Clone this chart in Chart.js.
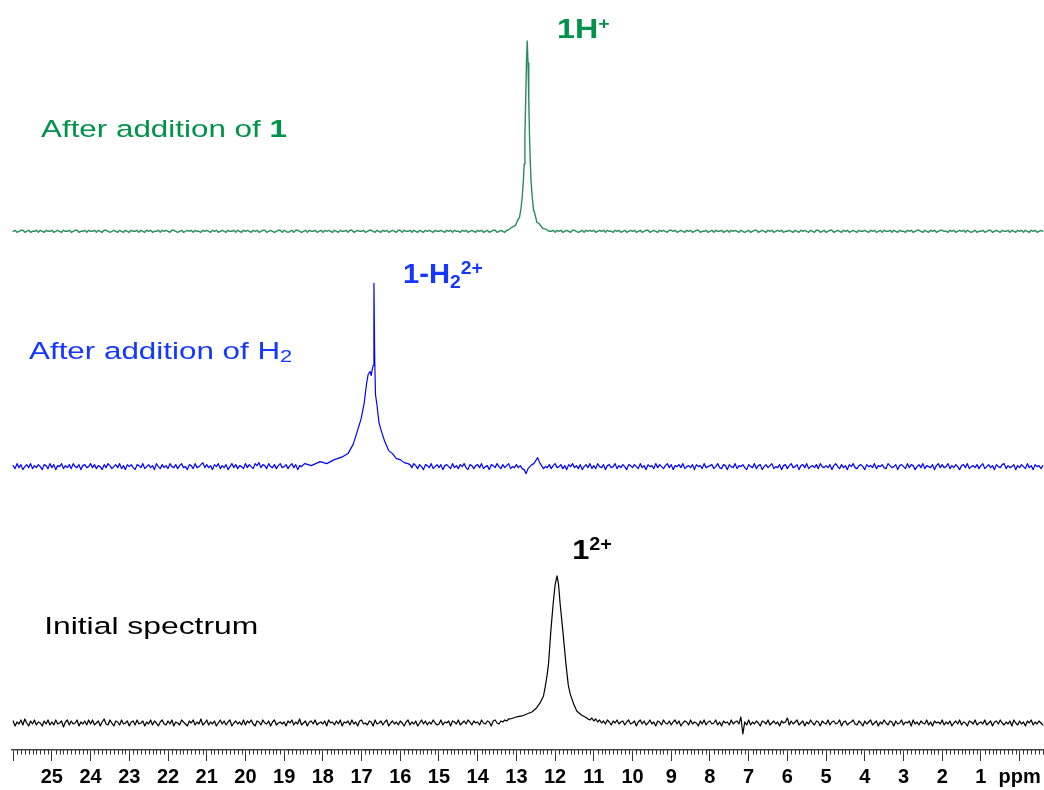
<!DOCTYPE html>
<html>
<head>
<meta charset="utf-8">
<title>1H NMR spectra</title>
<script src="https://cdn.jsdelivr.net/npm/chart.js@4.4.1/dist/chart.umd.min.js"></script>
<style>
  html, body { margin: 0; padding: 0; background: #fff; }
  #wrap { width: 1044px; height: 790px; }
</style>
</head>
<body>
<div id="wrap"><canvas id="nmr" width="1044" height="790"></canvas></div>
<script>
// --- chemical shift grid (ppm), 0.05 ppm steps for the baselines ---
const ppmGrid = [
  26,25.95,25.9,25.85,25.8,25.75,25.7,25.65,25.6,25.55,25.5,25.45,25.4,25.35,25.3,25.25,25.2,25.15,25.1,25.05,
  25,24.95,24.9,24.85,24.8,24.75,24.7,24.65,24.6,24.55,24.5,24.45,24.4,24.35,24.3,24.25,24.2,24.15,24.1,24.05,
  24,23.95,23.9,23.85,23.8,23.75,23.7,23.65,23.6,23.55,23.5,23.45,23.4,23.35,23.3,23.25,23.2,23.15,23.1,23.05,
  23,22.95,22.9,22.85,22.8,22.75,22.7,22.65,22.6,22.55,22.5,22.45,22.4,22.35,22.3,22.25,22.2,22.15,22.1,22.05,
  22,21.95,21.9,21.85,21.8,21.75,21.7,21.65,21.6,21.55,21.5,21.45,21.4,21.35,21.3,21.25,21.2,21.15,21.1,21.05,
  21,20.95,20.9,20.85,20.8,20.75,20.7,20.65,20.6,20.55,20.5,20.45,20.4,20.35,20.3,20.25,20.2,20.15,20.1,20.05,
  20,19.95,19.9,19.85,19.8,19.75,19.7,19.65,19.6,19.55,19.5,19.45,19.4,19.35,19.3,19.25,19.2,19.15,19.1,19.05,
  19,18.95,18.9,18.85,18.8,18.75,18.7,18.65,18.6,18.55,18.5,18.45,18.4,18.35,18.3,18.25,18.2,18.15,18.1,18.05,
  18,17.95,17.9,17.85,17.8,17.75,17.7,17.65,17.6,17.55,17.5,17.45,17.4,17.35,17.3,17.25,17.2,17.15,17.1,17.05,
  17,16.95,16.9,16.85,16.8,16.75,16.7,16.65,16.6,16.55,16.5,16.45,16.4,16.35,16.3,16.25,16.2,16.15,16.1,16.05,
  16,15.95,15.9,15.85,15.8,15.75,15.7,15.65,15.6,15.55,15.5,15.45,15.4,15.35,15.3,15.25,15.2,15.15,15.1,15.05,
  15,14.95,14.9,14.85,14.8,14.75,14.7,14.65,14.6,14.55,14.5,14.45,14.4,14.35,14.3,14.25,14.2,14.15,14.1,14.05,
  14,13.95,13.9,13.85,13.8,13.75,13.7,13.65,13.6,13.55,13.5,13.45,13.4,13.35,13.3,13.25,13.2,13.15,13.1,13.05,
  13,12.95,12.9,12.85,12.8,12.75,12.7,12.65,12.6,12.55,12.5,12.45,12.4,12.35,12.3,12.25,12.2,12.15,12.1,12.05,
  12,11.95,11.9,11.85,11.8,11.75,11.7,11.65,11.6,11.55,11.5,11.45,11.4,11.35,11.3,11.25,11.2,11.15,11.1,11.05,
  11,10.95,10.9,10.85,10.8,10.75,10.7,10.65,10.6,10.55,10.5,10.45,10.4,10.35,10.3,10.25,10.2,10.15,10.1,10.05,
  10,9.95,9.9,9.85,9.8,9.75,9.7,9.65,9.6,9.55,9.5,9.45,9.4,9.35,9.3,9.25,9.2,9.15,9.1,9.05,
  9,8.95,8.9,8.85,8.8,8.75,8.7,8.65,8.6,8.55,8.5,8.45,8.4,8.35,8.3,8.25,8.2,8.15,8.1,8.05,
  8,7.95,7.9,7.85,7.8,7.75,7.7,7.65,7.6,7.55,7.5,7.45,7.4,7.35,7.3,7.25,7.2,7.15,7.1,7.05,
  7,6.95,6.9,6.85,6.8,6.75,6.7,6.65,6.6,6.55,6.5,6.45,6.4,6.35,6.3,6.25,6.2,6.15,6.1,6.05,
  6,5.95,5.9,5.85,5.8,5.75,5.7,5.65,5.6,5.55,5.5,5.45,5.4,5.35,5.3,5.25,5.2,5.15,5.1,5.05,
  5,4.95,4.9,4.85,4.8,4.75,4.7,4.65,4.6,4.55,4.5,4.45,4.4,4.35,4.3,4.25,4.2,4.15,4.1,4.05,
  4,3.95,3.9,3.85,3.8,3.75,3.7,3.65,3.6,3.55,3.5,3.45,3.4,3.35,3.3,3.25,3.2,3.15,3.1,3.05,
  3,2.95,2.9,2.85,2.8,2.75,2.7,2.65,2.6,2.55,2.5,2.45,2.4,2.35,2.3,2.25,2.2,2.15,2.1,2.05,
  2,1.95,1.9,1.85,1.8,1.75,1.7,1.65,1.6,1.55,1.5,1.45,1.4,1.35,1.3,1.25,1.2,1.15,1.1,1.05,
  1,0.95,0.9,0.85,0.8,0.75,0.7,0.65,0.6,0.55,0.5,0.45,0.4,0.35,0.3,0.25,0.2,0.15,0.1,0.05,
  0,-0.05,-0.1,-0.15,-0.2,-0.25,-0.3,-0.35,-0.4,-0.45,-0.5,-0.55,-0.6
];

// baseline (same order as ppmGrid)
const greenBase = [
  0,1,-1,0,1,1,-1,0,1,-1,0,0,1,-1,1,0,-1,1,0,0,
  1,-1,0,1,0,-1,1,0,0,1,-1,0,1,1,-1,0,0,1,-1,1,
  0,0,1,-1,1,0,-1,1,1,0,-1,0,1,0,-1,1,0,-1,1,0,
  -1,1,0,0,1,-1,1,0,-1,1,0,1,-1,0,0,1,-1,1,0,1,
  0,-1,1,1,0,-1,0,1,-1,0,1,0,1,-1,1,0,0,-1,1,0,
  1,0,-1,1,0,1,-1,0,1,0,-1,1,0,0,1,-1,1,0,-1,1,
  0,1,0,-1,1,0,1,-1,0,1,1,-1,0,1,0,-1,0,1,1,-1,
  1,0,-1,0,1,-1,1,1,0,-1,0,1,-1,1,0,0,1,-1,0,1,
  -1,1,0,1,0,-1,1,0,-1,1,0,0,1,-1,1,1,-1,0,1,0,
  0,1,-1,0,1,1,0,-1,1,0,-1,1,0,1,-1,0,1,0,-1,1,
  1,-1,1,0,0,1,-1,1,0,-1,1,0,-1,1,0,1,0,-1,1,0,
  0,1,0,-1,1,0,1,-1,1,0,0,-1,1,0,1,-1,0,1,0,-1,
  1,0,1,-1,0,1,-1,0,1,1,-1,0,1,0,-1,1,0,1,-1,0,
  0,1,-1,0,1,0,1,-1,0,1,0,-1,1,0,1,-1,1,0,0,1,
  -1,1,0,1,-1,0,1,0,-1,1,1,0,-1,0,1,-1,1,0,1,0,
  1,-1,0,1,0,1,-1,1,0,0,-1,1,0,1,-1,0,1,-1,0,1,
  0,1,-1,0,1,-1,0,1,1,-1,0,1,0,-1,1,0,1,0,-1,1,
  1,0,1,-1,0,1,0,-1,1,0,1,-1,0,1,1,-1,0,0,1,-1,
  0,1,-1,1,0,0,1,-1,0,1,-1,1,0,1,0,-1,1,0,-1,0,
  1,-1,0,1,1,-1,0,1,0,-1,1,0,1,-1,0,1,0,1,-1,0,
  0,1,0,-1,1,0,-1,1,0,1,0,-1,1,0,-1,1,1,-1,0,1,
  -1,0,1,1,-1,0,1,0,-1,1,0,1,-1,0,1,0,-1,1,0,0,
  1,0,-1,1,0,1,-1,0,1,-1,1,0,0,1,-1,1,0,-1,1,0,
  0,-1,1,0,1,-1,0,1,1,0,-1,1,0,-1,1,0,1,-1,0,1,
  1,0,0,-1,1,0,1,-1,0,1,0,1,-1,1,0,-1,0,1,-1,0,
  0,1,-1,0,1,1,-1,0,1,0,-1,1,0,0,1,-1,1,0,-1,1,
  0,1,-1,1,0,-1,1,0,1,-1,0,1,0
];
const blueBase = [
  1,-2,3,-1,2,-3,0,2,-1,3,-2,1,-1,2,0,-3,2,1,-2,3,
  -1,2,-3,1,0,3,-2,1,-1,2,-2,3,0,-1,2,-3,1,2,-1,0,
  3,-1,2,-2,1,0,-3,2,-1,3,1,-2,0,2,-1,3,-2,1,-3,2,
  0,2,-1,-3,2,1,-1,3,-2,0,2,-1,1,-3,3,0,-2,2,-1,1,
  -2,3,0,-1,2,-2,1,3,-1,0,-3,2,1,-2,3,-1,0,2,4,-1,
  2,-1,1,-3,2,0,3,-2,1,-1,2,-3,0,3,-1,2,-2,1,0,-2,
  3,-1,2,0,-2,3,1,4,-1,2,1,-2,3,0,-1,2,-2,1,3,-1,
  0,2,-2,1,3,-1,2,-3,1,0,2,3,-1,1,2,0,3,1,2,4,
  3,5,4,6,5,7,6,8,9,10,12,13,15,18,20,24,28,33,40,48,
  56,65,82,92,95,92,96,183,60,45,37,30,24,20,16,14,12,10,9,8,
  7,6,5,4,3,2,-1,3,1,-2,2,0,-3,2,1,-1,3,-2,0,2,
  -1,2,-3,1,2,0,-2,3,-1,1,-2,2,0,3,-1,-3,2,1,-2,1,
  2,-1,3,-2,0,1,-3,2,1,-1,3,0,-2,2,-1,1,3,-2,0,-1,
  2,-1,1,-2,-3,-7,-2,0,2,3,6,9,4,1,-2,0,-1,2,-2,1,
  3,-1,0,2,-2,1,-3,2,0,3,-1,1,-2,2,-3,0,2,-1,3,-2,
  1,-2,3,0,-1,2,-3,1,2,-1,0,3,-2,1,-1,2,0,-3,2,1,
  -1,2,0,-2,3,-1,1,-3,2,0,1,-2,3,-1,2,0,-2,1,3,-1,
  2,-3,1,0,2,-1,3,-2,0,1,-1,2,-3,2,0,1,-2,3,-1,0,
  1,2,-2,0,3,-1,-2,2,1,-3,2,0,-1,3,-2,1,0,2,-1,-3,
  2,0,-1,3,-2,1,2,-3,0,2,-1,1,3,-2,0,-1,2,-3,1,2,
  -2,1,3,-1,0,2,-3,1,2,-1,3,-2,0,1,-1,2,-2,3,0,-1,
  1,-1,2,-3,1,3,0,-2,2,-1,1,-3,2,0,3,-1,-2,1,2,0,
  -3,2,0,1,-1,3,-2,1,0,2,-1,-2,3,1,-1,0,2,-3,1,2,
  0,-2,3,-1,2,1,-3,0,2,-1,3,-2,1,0,-1,2,-3,1,3,-1,
  2,-1,0,3,-2,1,-1,2,0,-3,1,2,-1,3,-2,0,1,-1,2,-2,
  1,3,-2,0,2,-1,1,-3,2,0,-1,2,3,-2,1,-1,0,2,-3,1,
  -1,2,0,-2,3,-1,1,-3,2,0,1,-2,1
];
const blackBase = [
  2,-3,1,-1,3,-2,4,0,-3,2,-1,3,-2,1,0,-3,2,-1,3,-2,
  1,-2,3,-1,0,2,-4,1,3,-2,2,-1,0,3,-3,1,-1,2,-2,3,
  -1,3,-2,0,2,-3,1,4,-1,-2,3,0,-3,2,1,-2,3,-1,0,2,
  -3,1,2,-2,3,-1,0,2,-3,1,-1,3,-2,2,0,-3,1,3,-1,-2,
  2,-1,3,-3,1,0,-2,3,1,-1,-3,2,0,3,-2,1,-1,4,-2,0,
  3,-2,1,-1,2,-3,0,3,-1,2,-2,1,3,-3,0,2,-1,1,-2,3,
  -2,2,0,3,-1,-3,2,1,-2,3,0,-1,2,-3,1,3,-2,0,1,-1,
  1,-3,2,0,3,-2,1,-1,4,-2,0,2,-3,1,2,-1,3,-2,0,1,
  -1,2,-3,3,0,1,-2,2,-1,3,-3,1,0,2,-2,3,-1,1,-3,2,
  3,-1,0,-2,2,1,-3,3,-1,0,2,-2,1,3,-3,0,2,-1,1,-2,
  2,0,-3,1,3,-2,1,-1,2,-3,0,3,-1,2,-2,1,-1,3,0,-2,
  -1,3,-2,1,0,2,-3,2,1,-1,3,-2,0,2,-1,3,1,-2,2,0,
  1,-2,3,0,-1,2,1,-3,2,3,0,-1,2,1,3,2,4,4,5,6,
  7,8,8,9,10,11,12,14,16,18,20,24,28,32,36,44,55,72,92,108,
  119,138,147,138,119,100,78,59,45,36,29,24,19,15,12,10,8,4,3,5,
  2,4,1,3,0,2,-1,3,1,-2,2,0,3,-1,1,2,-2,1,3,-1,
  0,2,-3,1,3,-1,2,-2,0,3,-1,1,-3,2,1,-2,3,0,-1,2,
  -2,1,3,-1,2,-3,0,2,1,-2,3,-1,1,0,-3,2,-1,3,-2,1,
  2,-1,0,3,-2,1,-3,2,0,1,-2,3,-1,1,2,-1,6,-11,1,-2,
  3,-2,1,-1,2,0,-3,2,1,-1,3,-2,0,2,-1,1,-3,2,0,1,
  5,-2,2,-1,1,3,-2,0,2,-3,1,-1,3,0,-2,2,1,-3,2,0,
  -1,3,-2,1,2,-1,0,3,-3,1,2,-2,0,1,3,-1,-2,2,0,-3,
  2,-1,1,3,-2,0,2,-3,1,-1,3,0,-2,2,1,-3,2,-1,0,3,
  -2,1,0,2,-3,3,-1,1,-2,2,0,-1,3,-2,1,-3,2,0,1,-1,
  3,-2,1,-1,2,-3,0,2,-1,3,-2,1,0,-3,2,1,-1,3,-2,0,
  1,-1,3,-2,0,2,-3,1,2,-1,3,0,-2,1,-1,2,-3,3,0,-2,
  2,-1,1,-3,2,0,3,-2,1,-1,2,0,-2
];

// denser points across each resonance
const greenPeakPpm = [13.22,13.12,13.02,12.97,12.92,12.88,12.85,12.82,12.80,12.78,12.76,12.74,12.72,
  12.70,12.68,12.66,12.64,12.62,12.59,12.56,12.52,12.47,12.42,12.32,12.22];
const greenPeakInt = [1,4,6,11,14,23,34,50,67,96,130,168,190,168,132,94,69,49,34,22,17,9,8,3,2];

const bluePeakPpm = [18.46,18.30,18.07,17.90,17.70,17.48,17.35,17.22,17.12,17.01,16.93,16.87,16.83,16.78,
  16.75,16.73,16.70,16.68,16.66,16.64,16.60,16.55,16.50,16.40,16.30,16.20,16.10,16.00,15.90,15.80];
const bluePeakInt = [3,1,5,3,7,10,13,22,34,48,64,83,92,95,91,96,101,183,108,72,61,44,37,25,16,13,8,7,4,3];

const blackPeakPpm = [13.16,13.00,12.85,12.73,12.60,12.48,12.39,12.30,12.26,12.21,12.17,12.11,12.05,12.00,
  11.95,11.91,11.87,11.80,11.72,11.66,11.61,11.52,11.44,11.32,11.18];
const blackPeakInt = [4,6,7,9,11,15,20,27,35,47,59,92,119,138,147,138,119,92,59,38,29,19,12,8,5];

// x axis labels: 26 .. 0, the 0 position carries the unit
const tickValues = [26,25,24,23,22,21,20,19,18,17,16,15,14,13,12,11,10,9,8,7,6,5,4,3,2,1,0];

const FONT = "'Liberation Sans', Arial, Helvetica, sans-serif";
Chart.defaults.font.family = FONT;

// swap the baseline samples inside a peak window for the denser peak samples
function buildTrace(base, peakPpm, peakInt) {
  const lo = Math.min(...peakPpm);
  const hi = Math.max(...peakPpm);
  const pts = [];
  ppmGrid.forEach((p, i) => {
    if (p < lo || p > hi) pts.push({ x: p, y: base[i] });
  });
  peakPpm.forEach((p, i) => pts.push({ x: p, y: peakInt[i] }));
  pts.sort((a, b) => b.x - a.x);
  return pts;
}

// labels anchored in data space (ppm, trace units)
const annotations = [
  { axis: 'yGreen', ppm: 25.28, val: 94, color: '#00924a', sx: 1.28,
    runs: [{ t: 'After addition of ', size: 24.5 }, { t: '1', size: 24.5, bold: true }] },
  { axis: 'yGreen', ppm: 11.95, val: 193, color: '#00924a', sx: 1.15,
    runs: [{ t: '1H', size: 28, bold: true }, { t: '+', size: 17, bold: true, dy: -9 }] },
  { axis: 'yBlue', ppm: 25.59, val: 107, color: '#1438ff', sx: 1.28,
    runs: [{ t: 'After addition of H', size: 24.5 }, { t: '2', size: 17, dy: 2.5 }] },
  { axis: 'yBlue', ppm: 15.93, val: 183, color: '#1438ff', sx: 1.08,
    runs: [{ t: '1-H', size: 27, bold: true }, { t: '2', size: 18, bold: true, dy: 5 },
           { t: '2+', size: 18, bold: true, dy: -9 }] },
  { axis: 'yBlack', ppm: 25.2, val: 89, color: '#000', sx: 1.3,
    runs: [{ t: 'Initial spectrum', size: 24.5 }] },
  { axis: 'yBlack', ppm: 11.56, val: 164, color: '#000', sx: 1.1,
    runs: [{ t: '1', size: 28, bold: true }, { t: '2+', size: 18, bold: true, dy: -9 }] }
];

const labelPlugin = {
  id: 'traceLabels',
  afterDatasetsDraw(chart) {
    const ctx = chart.ctx;
    const xs = chart.scales.x;
    annotations.forEach(a => {
      const x0 = xs.getPixelForValue(a.ppm);
      const y0 = chart.scales[a.axis].getPixelForValue(a.val);
      ctx.save();
      ctx.translate(x0, y0);
      ctx.scale(a.sx, 1);
      ctx.fillStyle = a.color;
      ctx.textBaseline = 'alphabetic';
      let cx = 0;
      a.runs.forEach(r => {
        ctx.font = (r.bold ? 'bold ' : '') + r.size + 'px ' + FONT;
        ctx.fillText(r.t, cx, r.dy || 0);
        cx += ctx.measureText(r.t).width;
      });
      ctx.restore();
    });
  }
};

// 0.1 ppm minor ticks under the axis line
const minorTicks = {
  id: 'minorTicks',
  afterDraw(chart) {
    const xs = chart.scales.x;
    const ctx = chart.ctx;
    ctx.save();
    ctx.strokeStyle = '#333';
    ctx.lineWidth = 1;
    ctx.beginPath();
    for (let i = -6; i <= 260; i++) {
      if (i % 10 === 0) continue;
      const px = Math.round(xs.getPixelForValue(i / 10)) + 0.5;
      ctx.moveTo(px, xs.top);
      ctx.lineTo(px, xs.top + 4.5);
    }
    ctx.stroke();
    ctx.restore();
  }
};

new Chart(document.getElementById('nmr'), {
  type: 'line',
  data: {
    datasets: [
      { label: 'After addition of 1', data: buildTrace(greenBase, greenPeakPpm, greenPeakInt),
        yAxisID: 'yGreen', borderColor: '#2a8c5a', borderWidth: 1.4 },
      { label: 'After addition of H2', data: buildTrace(blueBase, bluePeakPpm, bluePeakInt),
        yAxisID: 'yBlue', borderColor: '#0000ff', borderWidth: 1.2 },
      { label: 'Initial spectrum', data: buildTrace(blackBase, blackPeakPpm, blackPeakInt),
        yAxisID: 'yBlack', borderColor: '#000000', borderWidth: 1.2 }
    ]
  },
  options: {
    responsive: false,
    animation: false,
    events: [],
    elements: {
      point: { radius: 0 },
      line: { tension: 0, borderJoinStyle: 'round', borderCapStyle: 'round' }
    },
    layout: { padding: { left: 12, right: 0, top: 0, bottom: -3 } },
    plugins: { legend: { display: false }, tooltip: { enabled: false } },
    scales: {
      x: {
        type: 'linear',
        reverse: true,
        min: -0.63,
        max: 26.03,
        afterBuildTicks: scale => { scale.ticks = tickValues.slice().reverse().map(v => ({ value: v })); },
        ticks: {
          autoSkip: false,
          maxRotation: 0,
          padding: 4,
          color: '#000',
          font: { size: 20, weight: 'bold' },
          callback: v => (v === 0 ? 'ppm' : v === 26 ? '' : String(v))
        },
        grid: { drawOnChartArea: false, drawTicks: true, tickLength: 11, tickColor: '#333', tickWidth: 1 },
        border: { display: true, color: '#444', width: 1.5 }
      },
      yGreen: { type: 'linear', display: false, min: -518, max: 231 },
      yBlue: { type: 'linear', display: false, min: -283, max: 466 },
      yBlack: { type: 'linear', display: false, min: -27, max: 722 }
    }
  },
  plugins: [labelPlugin, minorTicks]
});
</script>
</body>
</html>
